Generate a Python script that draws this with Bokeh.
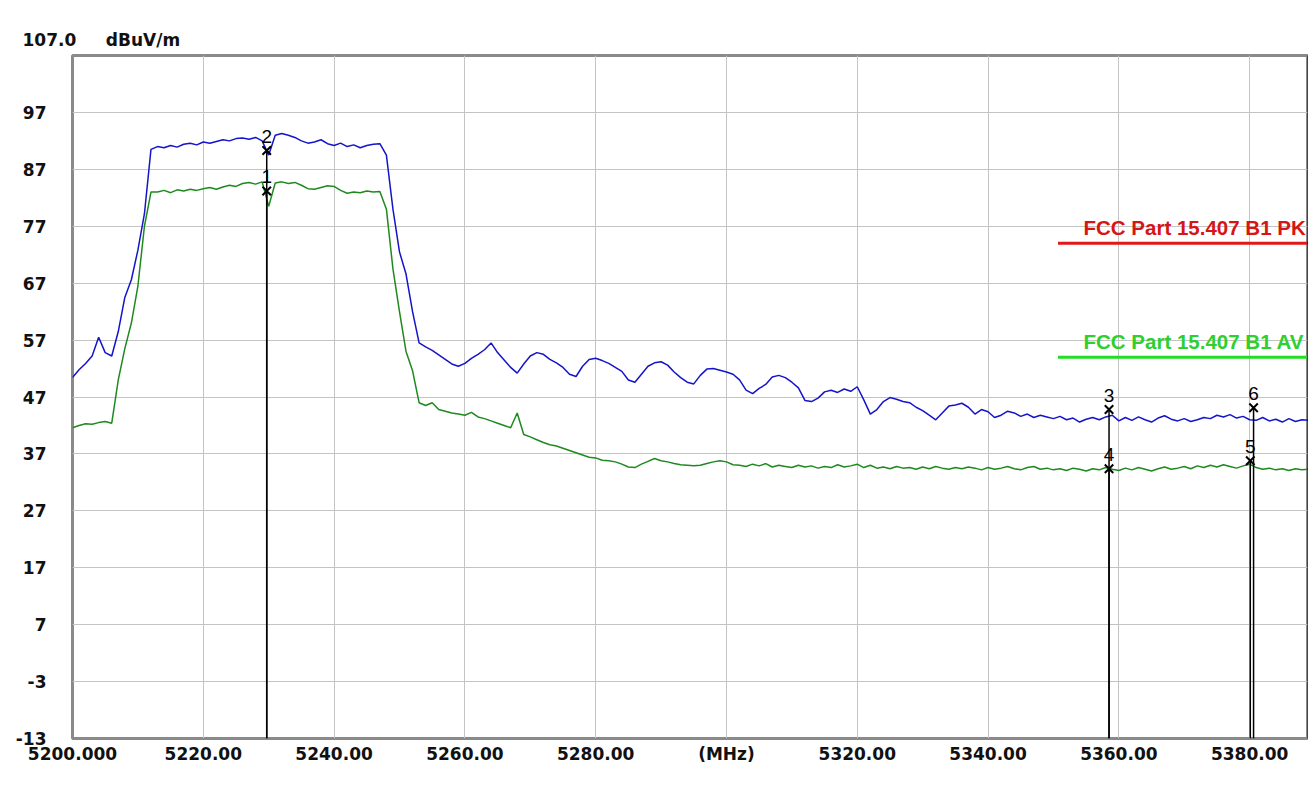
from bokeh.plotting import figure
from bokeh.models import Range1d, FixedTicker, ColumnDataSource, BoxAnnotation
from bokeh.core.properties import value
from bokeh.embed import file_html
from bokeh.resources import INLINE

# ---------------- data ----------------
freq_start = 5200
freq_stop = 5389
freq = list(range(5200, 5390))  # MHz, 1 MHz steps

peak = [
    50.4, 51.8, 52.9, 54.2, 57.5, 54.8, 54.2, 58.5, 64.5, 67.6,
    72.8, 79.2, 90.5, 91.0, 90.8, 91.2, 90.9, 91.4, 91.6, 91.3,
    91.8, 91.6, 91.9, 92.2, 92.0, 92.4, 92.5, 92.3, 92.6, 92.0,
    89.5, 93.0, 93.3, 93.0, 92.6, 92.0, 91.6, 91.8, 92.2, 91.5,
    91.2, 91.6, 91.0, 91.3, 90.8, 91.2, 91.4, 91.5, 89.5, 80.0,
    72.5, 68.6, 62.0, 56.5, 55.8, 55.2, 54.4, 53.6, 52.8, 52.4,
    52.9, 53.8, 54.5, 55.3, 56.5, 54.8, 53.5, 52.2, 51.2, 52.8,
    54.2, 54.8, 54.5, 53.6, 53.0, 52.2, 51.0, 50.6, 52.4, 53.6,
    53.8, 53.4, 52.9, 52.2, 51.5, 50.0, 49.6, 51.0, 52.4, 53.0,
    53.2, 52.6, 51.4, 50.4, 49.6, 49.3, 50.8, 51.9, 52.0, 51.7,
    51.4, 51.0, 50.0, 48.2, 47.6, 48.5, 49.2, 50.5, 50.8, 50.4,
    49.6, 48.6, 46.4, 46.2, 46.8, 47.9, 48.2, 47.8, 48.4, 48.0,
    48.8, 46.5, 44.0, 44.8, 46.2, 46.9, 46.6, 46.2, 46.0, 45.2,
    44.6, 43.8, 43.0, 44.2, 45.4, 45.6, 45.9, 45.2, 44.0, 44.8,
    44.4, 43.4, 43.8, 44.5, 44.2, 43.6, 44.0, 43.4, 43.8, 43.5,
    43.2, 43.6, 43.0, 43.3, 42.6, 43.1, 43.4, 43.0, 43.5, 43.8,
    42.8, 43.4, 42.9, 43.5, 43.0, 42.6, 43.3, 43.7, 43.1, 42.8,
    43.2, 42.7, 43.0, 43.4, 43.2, 43.8, 43.5, 43.9, 43.3, 43.6,
    43.0, 42.9, 43.4, 42.8, 43.1, 42.6, 43.2, 42.7, 43.0, 42.9,
]

average = [
    41.6, 42.0, 42.3, 42.2, 42.5, 42.7, 42.4, 50.0, 55.5, 60.0,
    66.5, 77.0, 83.0, 83.0, 83.3, 82.9, 83.4, 83.2, 83.5, 83.3,
    83.6, 83.8, 83.5, 83.9, 84.2, 84.0, 84.5, 84.7, 84.4, 84.8,
    80.5, 84.6, 84.8, 84.5, 84.7, 84.2, 83.6, 83.5, 83.8, 84.1,
    84.0, 83.3, 82.8, 83.0, 82.9, 83.2, 83.0, 83.1, 80.0, 69.5,
    62.0, 55.0, 51.6, 46.0, 45.5, 46.0, 44.8, 44.5, 44.2, 44.0,
    43.8, 44.3, 43.5, 43.2, 42.8, 42.4, 42.0, 41.6, 44.2, 40.4,
    40.0, 39.5, 39.0, 38.6, 38.4, 38.0, 37.6, 37.2, 36.8, 36.4,
    36.3, 35.9, 35.8, 35.6, 35.2, 34.7, 34.6, 35.2, 35.7, 36.2,
    35.8, 35.6, 35.3, 35.1, 35.0, 34.9, 35.0, 35.3, 35.6, 35.8,
    35.6, 35.1, 35.0, 34.8, 35.2, 34.9, 35.3, 34.7, 35.0, 34.8,
    34.6, 35.0, 34.7, 34.9, 34.5, 34.8, 34.6, 35.1, 34.7, 34.9,
    35.2, 34.6, 35.0, 34.5, 34.7, 34.4, 34.8, 34.5, 34.6, 34.3,
    34.7, 34.4, 34.8, 34.5, 34.3, 34.6, 34.4, 34.7, 34.5, 34.2,
    34.6, 34.3, 34.5, 34.8, 34.4, 34.2, 34.6, 34.8, 34.3, 34.5,
    34.2, 34.4, 34.1, 34.5, 34.3, 34.0, 34.4, 34.2, 34.6, 34.3,
    34.1, 34.5, 34.2, 34.6, 34.3, 34.0, 34.4, 34.7, 34.3, 34.5,
    34.8, 34.4, 34.9, 34.6, 35.0, 34.7, 35.1, 34.8, 34.5, 34.9,
    35.2, 34.6, 34.3, 34.5, 34.2, 34.4, 34.1, 34.4, 34.2, 34.3,
]

marker_names = ["1", "2", "3", "4", "5", "6"]
marker_freq = [5229.7, 5229.7, 5358.5, 5358.5, 5380.1, 5380.6]
marker_level = [83.2, 90.3, 44.8, 34.4, 35.8, 45.1]

limit_names = ["FCC Part 15.407 B1 PK", "FCC Part 15.407 B1 AV"]
limit_levels = [74, 54]
limit_start = 5350.7
limit_colors = ["#e01818", "#22dd22"]
limit_text_colors = ["#d81414", "#2ed02e"]

y_min, y_max = -13, 107
y_ticks = [97, 87, 77, 67, 57, 47, 37, 27, 17, 7, -3, -13]
y_tick_labels = ["97", "87", "77", "67", "57", "47", "37", "27", "17", "7", "-3", "-13"]
x_ticks = [5200, 5220, 5240, 5260, 5280, 5300, 5320, 5340, 5360, 5380]
x_tick_labels = ["5200.000", "5220.00", "5240.00", "5260.00", "5280.00",
                 "(MHz)", "5320.00", "5340.00", "5360.00", "5380.00"]
top_value_label = "107.0"
unit_label = "dBuV/m"

# ---------------- figure ----------------
p = figure(width=1308, height=788,
           x_range=Range1d(freq_start, freq_stop), y_range=Range1d(y_min, y_max),
           output_backend="svg", toolbar_location=None,
           min_border_left=72, min_border_right=0, min_border_top=55, min_border_bottom=50,
           background_fill_color="white", border_fill_color="white")

p.outline_line_color = "#8a8a8a"
p.outline_line_width = 3
p.outline_line_alpha = 1.0

# thin outer frame of the whole picture
p.add_layout(BoxAnnotation(left=5.5, right=1307.5, top=5.5, bottom=787.5,
                           left_units="canvas", right_units="canvas",
                           top_units="canvas", bottom_units="canvas",
                           fill_color=None, fill_alpha=0,
                           line_color="black", line_width=1, line_alpha=1.0,
                           level="overlay"))

# top-left value + unit line
p.title.text = top_value_label + "\u00a0" * 5 + unit_label
p.title.align = "left"
p.title.offset = -50
p.title.text_font = "DejaVu Sans"
p.title.text_font_style = "bold"
p.title.text_font_size = "17px"
p.title.text_color = "#111111"
p.title.standoff = 11

for ax in (p.xaxis[0], p.yaxis[0]):
    ax.axis_line_color = None
    ax.major_tick_line_color = None
    ax.minor_tick_line_color = None
    ax.major_tick_out = 0
    ax.major_tick_in = 0
    ax.minor_tick_out = 0
    ax.minor_tick_in = 0
    ax.major_label_text_font = "DejaVu Sans"
    ax.major_label_text_font_style = "bold"
    ax.major_label_text_font_size = "17px"
    ax.major_label_text_color = "#111111"

p.xaxis.ticker = FixedTicker(ticks=x_ticks)
p.xaxis.major_label_overrides = {t: l for t, l in zip(x_ticks, x_tick_labels)}
p.xaxis.major_label_standoff = 5

p.yaxis.ticker = FixedTicker(ticks=y_ticks)
p.yaxis.major_label_overrides = {t: l for t, l in zip(y_ticks, y_tick_labels)}
p.yaxis.major_label_standoff = 26

p.xgrid.ticker = FixedTicker(ticks=x_ticks[1:])
p.ygrid.ticker = FixedTicker(ticks=y_ticks[:-1])
for g in (p.xgrid[0], p.ygrid[0]):
    g.grid_line_color = "#c4c4c4"
    g.grid_line_width = 1

# traces
src = ColumnDataSource(dict(f=freq, pk=peak, av=average))
p.line("f", "pk", source=src, line_color="#1414c8", line_width=1.5)
p.line("f", "av", source=src, line_color="#1e8a1e", line_width=1.5)

# limit lines + labels
for name, lvl, col, tcol in zip(limit_names, limit_levels, limit_colors, limit_text_colors):
    p.line([limit_start, freq_stop], [lvl, lvl], line_color=col, line_width=3)
    p.text(x=[limit_start + 3.9], y=[lvl + 2.7], text=[name],
           text_font=value("Liberation Sans"), text_font_style="bold",
           text_font_size="20.5px", text_color=tcol, text_baseline="alphabetic",
           text_align="left")

# markers
for f, lv in zip(marker_freq, marker_level):
    p.segment(x0=[f], y0=[lv], x1=[f], y1=[y_min], line_color="black", line_width=1.5)
p.scatter(marker_freq, marker_level, marker="x", size=12, line_color="black", line_width=2)
p.text(x=marker_freq, y=marker_level, text=marker_names, y_offset=-8,
       text_font=value("Liberation Sans"), text_font_size="19px", text_color="black",
       text_align="center", text_baseline="bottom")

open("out.html", "w").write(file_html(p, INLINE))
